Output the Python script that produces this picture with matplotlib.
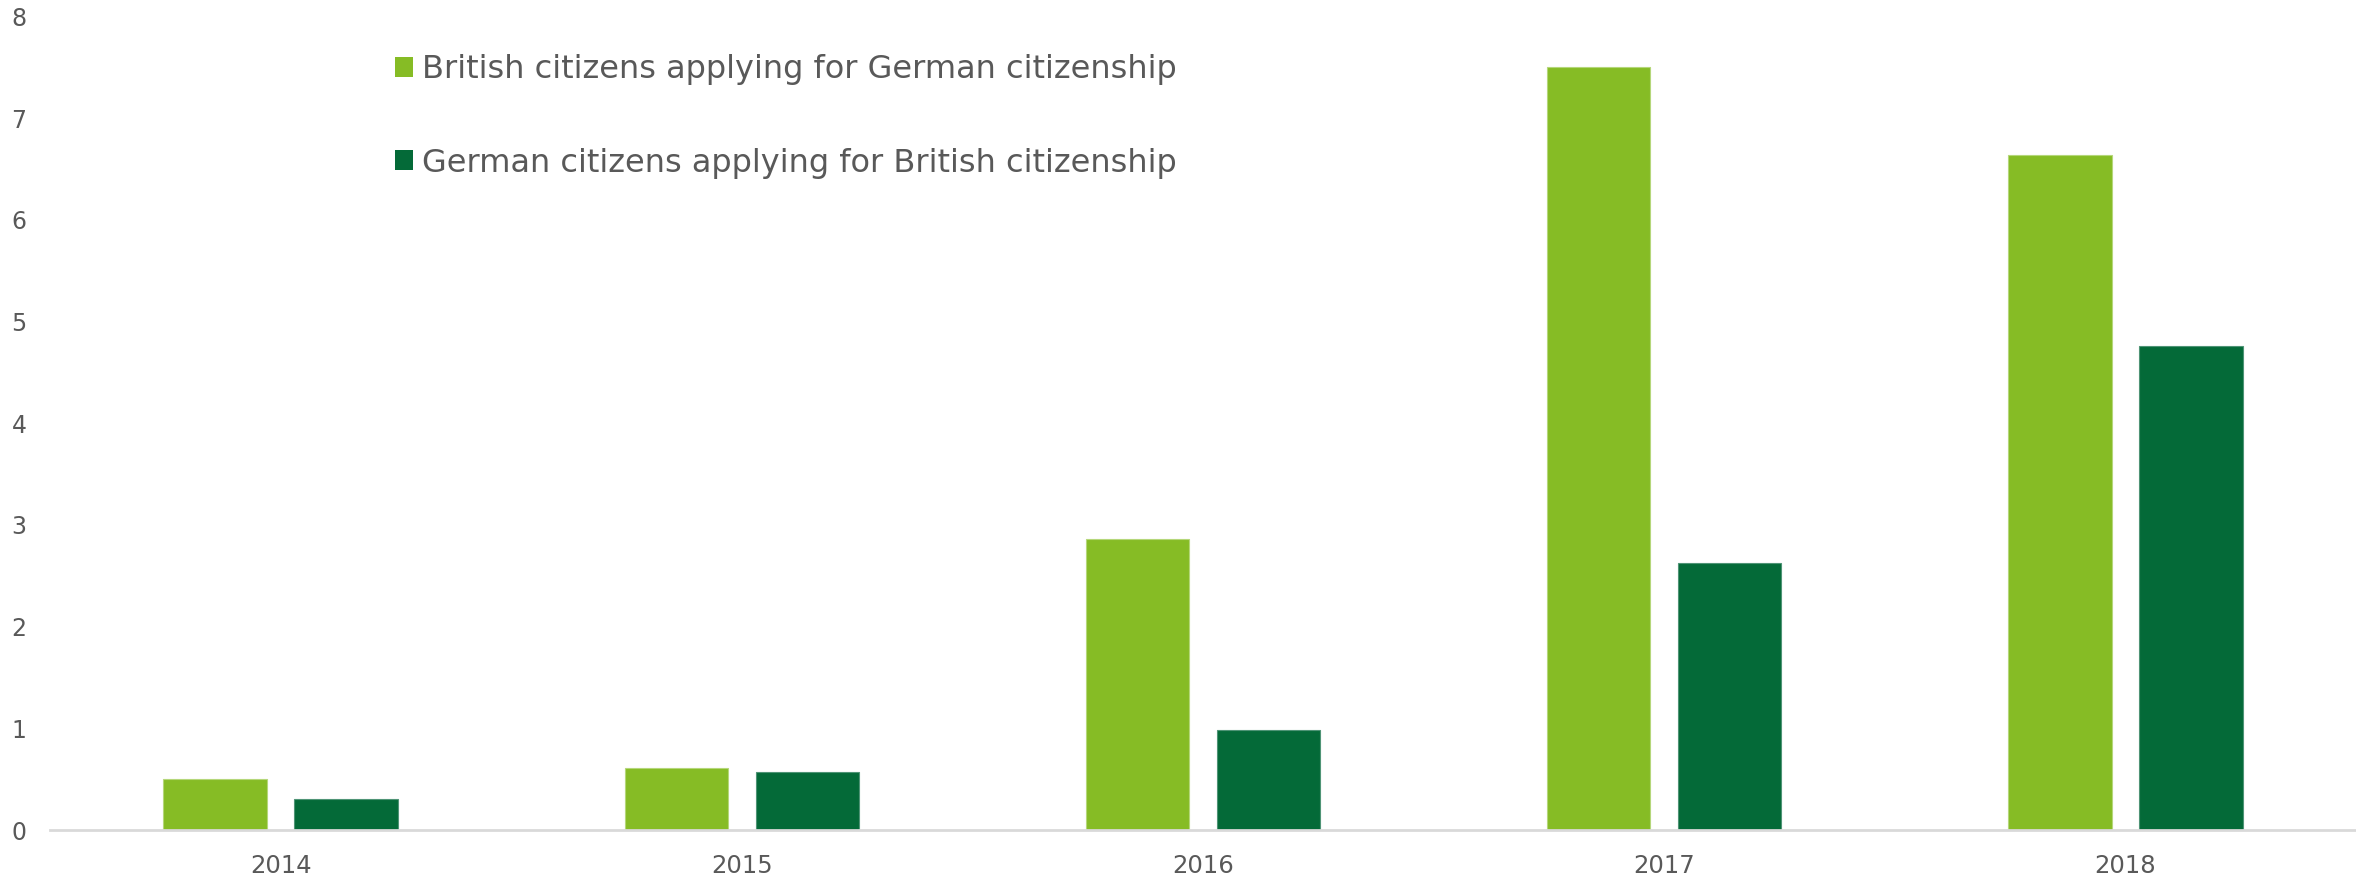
import matplotlib
matplotlib.use("Agg")
import matplotlib.pyplot as plt
from matplotlib.patches import Patch
import numpy as np

years = ["2014", "2015", "2016", "2017", "2018"]
british_to_german = [0.50, 0.61, 2.86, 7.50, 6.64]
german_to_british = [0.30, 0.57, 0.98, 2.63, 4.76]
series_labels = ["British citizens applying for German citizenship",
                 "German citizens applying for British citizenship"]
colors = ["#86BC25", "#046A38"]
yticks = [0, 1, 2, 3, 4, 5, 6, 7, 8]

plt.rcParams['font.family'] = ['DejaVu Sans']
text_color = "#595959"

fig = plt.figure(figsize=(23.56, 8.76), dpi=100)
ax = fig.add_axes([50/2356, 1-830/876, 1-50/2356, (830-16.4)/876])

x = np.arange(len(years))
w = 0.224
off = 0.142
ax.bar(x - off, british_to_german, width=w, color=colors[0], edgecolor="#b5d77a", linewidth=0.8, zorder=2)
ax.bar(x + off, german_to_british, width=w, color=colors[1], edgecolor="#4f9476", linewidth=0.8, zorder=2)

ax.set_xlim(-0.5, len(years) - 0.5)
ax.set_ylim(0, 8)
ax.set_yticks(yticks)
ax.set_yticklabels([str(t) for t in yticks])
ax.set_xticks(x)
ax.set_xticklabels(years)

for s in ["top", "right", "left"]:
    ax.spines[s].set_visible(False)
ax.spines["bottom"].set_color("#d9d9d9")
ax.spines["bottom"].set_linewidth(2)
ax.spines["bottom"].set_zorder(3)

ax.tick_params(axis="y", length=0, pad=17, labelsize=17, labelcolor=text_color)
ax.tick_params(axis="x", length=0, pad=17, labelsize=17.5, labelcolor=text_color)

handles = [Patch(facecolor=colors[0], edgecolor="none"),
           Patch(facecolor=colors[1], edgecolor="none")]
leg = ax.legend(handles, series_labels, loc="upper left",
                bbox_to_anchor=(395/2356, 1 - 54/876), bbox_transform=fig.transFigure,
                frameon=False, fontsize=23, handlelength=0.57, handleheight=0.57,
                handletextpad=0.28, labelspacing=1.96, borderpad=0, borderaxespad=0)
for t in leg.get_texts():
    t.set_color(text_color)

fig.savefig("out.png", dpi=100, facecolor="white")
